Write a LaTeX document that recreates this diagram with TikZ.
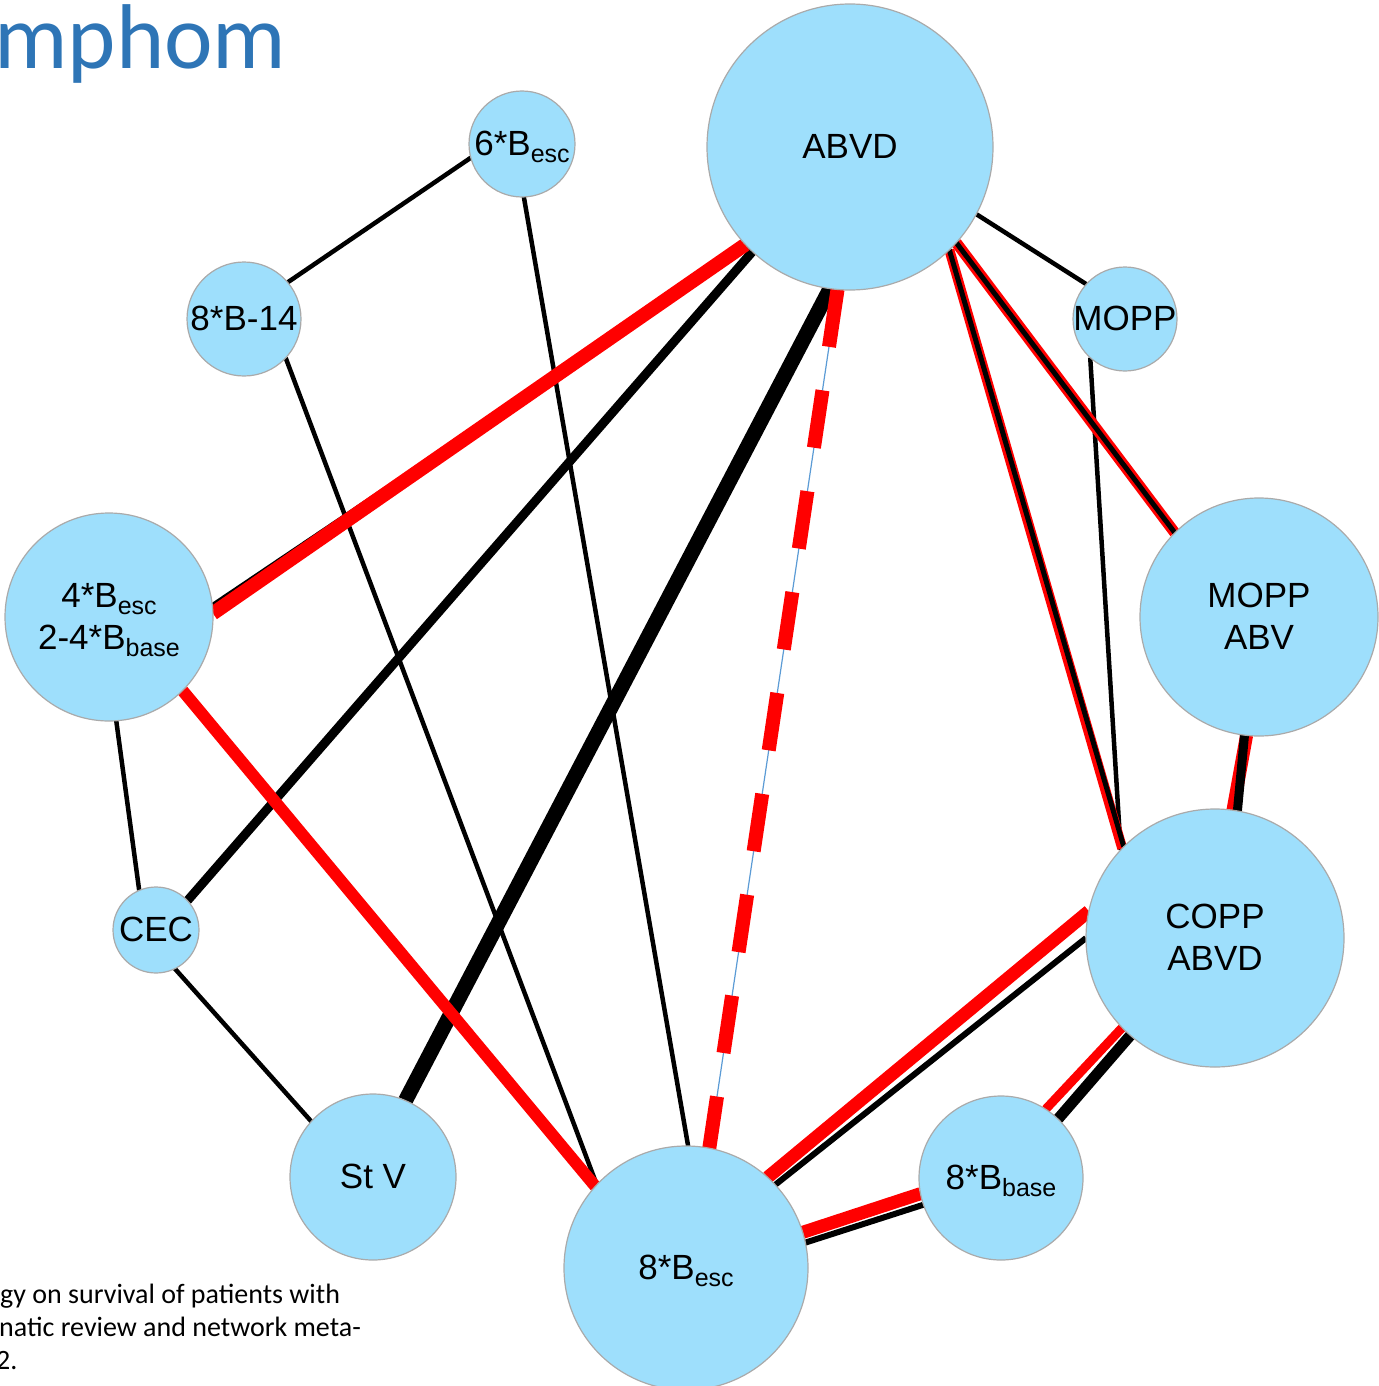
\documentclass[tikz,border=0pt]{standalone}
\usepackage{fontspec}
\setmainfont{Liberation Sans}
\newfontfamily\calib{Carlito}
\definecolor{nodeblue}{RGB}{158,223,252}
\definecolor{nodeedge}{RGB}{170,170,170}
\definecolor{titleblue}{RGB}{46,117,182}
\definecolor{thinblue}{RGB}{91,155,213}
\newcommand\lbl[1]{\makebox[0pt]{\raisebox{-3pt}[\dimexpr\height+3pt\relax][\dimexpr\depth+3pt\relax]{\begin{tabular}{@{}c@{}}#1\end{tabular}}}}
\newcommand\sbs[1]{\raisebox{-7pt}{\fontsize{25}{25}\selectfont #1}}
\pgfdeclarelayer{edges}
\pgfsetlayers{edges,main}
\tikzset{
  nd/.style={circle, fill=nodeblue, draw=nodeedge, line width=1.2pt, inner sep=0pt, outer sep=0pt,
    minimum size=#1, font=\fontsize{35}{42}\selectfont},
  blk/.style={draw=black, line width=#1},
  rd/.style={draw=red, line width=#1},
  captext/.style={anchor=base west, inner sep=0pt, font=\calib\fontsize{28}{33}\selectfont},
}
\begin{document}
\begin{tikzpicture}[x=1pt,y=-1pt]
\useasboundingbox (0,0) rectangle (1378,1386);
% title and caption
\node[anchor=base west, inner sep=0pt, text=titleblue, font=\calib\fontsize{92}{92}\selectfont] (title) at (-6,69) {mphom};
\node[captext] (cap1) at (0,1303) {gy on survival of patients with};
\node[captext] (cap2) at (-1,1336) {natic review and network meta-};
\node[captext] (cap3) at (-4,1369) {2.};
% nodes
\node[nd=286pt] (A)   at (850,147)  {\lbl{ABVD}};
\node[nd=106pt] (S6)  at (522,144)  {\lbl{6*B\sbs{esc}}};
\node[nd=114pt] (B14) at (244,319)  {\lbl{8*B-14}};
\node[nd=104pt] (MO)  at (1125,319) {\lbl{MOPP}};
\node[nd=208pt] (B4)  at (109,617)  {\lbl{4*B\sbs{esc}\\2-4*B\sbs{base}}};
\node[nd=238pt] (MA)  at (1259,617) {\lbl{MOPP\\ABV}};
\node[nd=86pt]  (CEC) at (156,930)  {\lbl{CEC}};
\node[nd=258pt] (CO)  at (1215,938) {\lbl{COPP\\ABVD}};
\node[nd=166pt] (SV)  at (373,1177) {\lbl{St V}};
\node[nd=164pt] (BB)  at (1001,1178){\lbl{8*B\sbs{base}}};
\node[nd=244pt] (BE)  at (686,1268) {\lbl{8*B\sbs{esc}}};
% edges
\begin{pgfonlayer}{edges}
\draw[blk=4.5pt] (S6.195) -- (B14.40.7);
\draw[blk=4.5pt] (S6.-88) -- (BE.89);
\draw[blk=4.5pt] (B14.-43.6) -- (BE.137);
\draw[blk=4.5pt] (A.-28.2) -- (MO.138);
\draw[blk=4.5pt] (MO.-132.7) -- (CO.137);
\draw[blk=4.5pt] (B4.-86.7) -- (CEC.113);
\draw[blk=4.5pt] (CEC.-64.6) -- (SV.138);
\draw[blk=9pt] (A.-133.6) -- (CEC.43);
\draw[blk=15pt] (A.-98.7) -- (SV.67.4);
\draw[blk=6pt] (A.-136) -- (B4.6);
\draw[rd=14pt] (A.-137.8) -- (B4.2.8);
\draw[rd=12pt] (B4.-45) -- (BE.138);
\draw[rd=11pt] (A.-42.8) -- (MA.135);
\draw[blk=5pt] (A.-42.8) -- (MA.135);
\draw[rd=10pt] (A.-46.4) -- (CO.136);
\draw[blk=5pt] (A.-46.2) -- (CO.135);
\draw[thinblue, line width=1.2pt] (A.-95.6) -- (BE.79.6);
\draw[rd=14pt, dash pattern=on 58pt off 44pt] (A.-95.6) -- (BE.79.6);
\draw[rd=13pt] (MA.-96.1) -- (CO.82.1);
\draw[blk=9pt] (MA.-97.6) -- (CO.80.8);
\draw[blk=6pt] (CO.180.9) -- (BE.43.7);
\draw[rd=13pt] (CO.168.3) -- (BE.48.4);
\draw[blk=11pt] (CO.-131.6) -- (BB.46.9);
\draw[rd=9pt] (CO.-136.9) -- (BB.57.8);
\draw[blk=6pt] (BE.12.2) -- (BB.199.7);
\draw[rd=13pt] (BE.17) -- (BB.191.3);
\end{pgfonlayer}
\end{tikzpicture}
\end{document}
